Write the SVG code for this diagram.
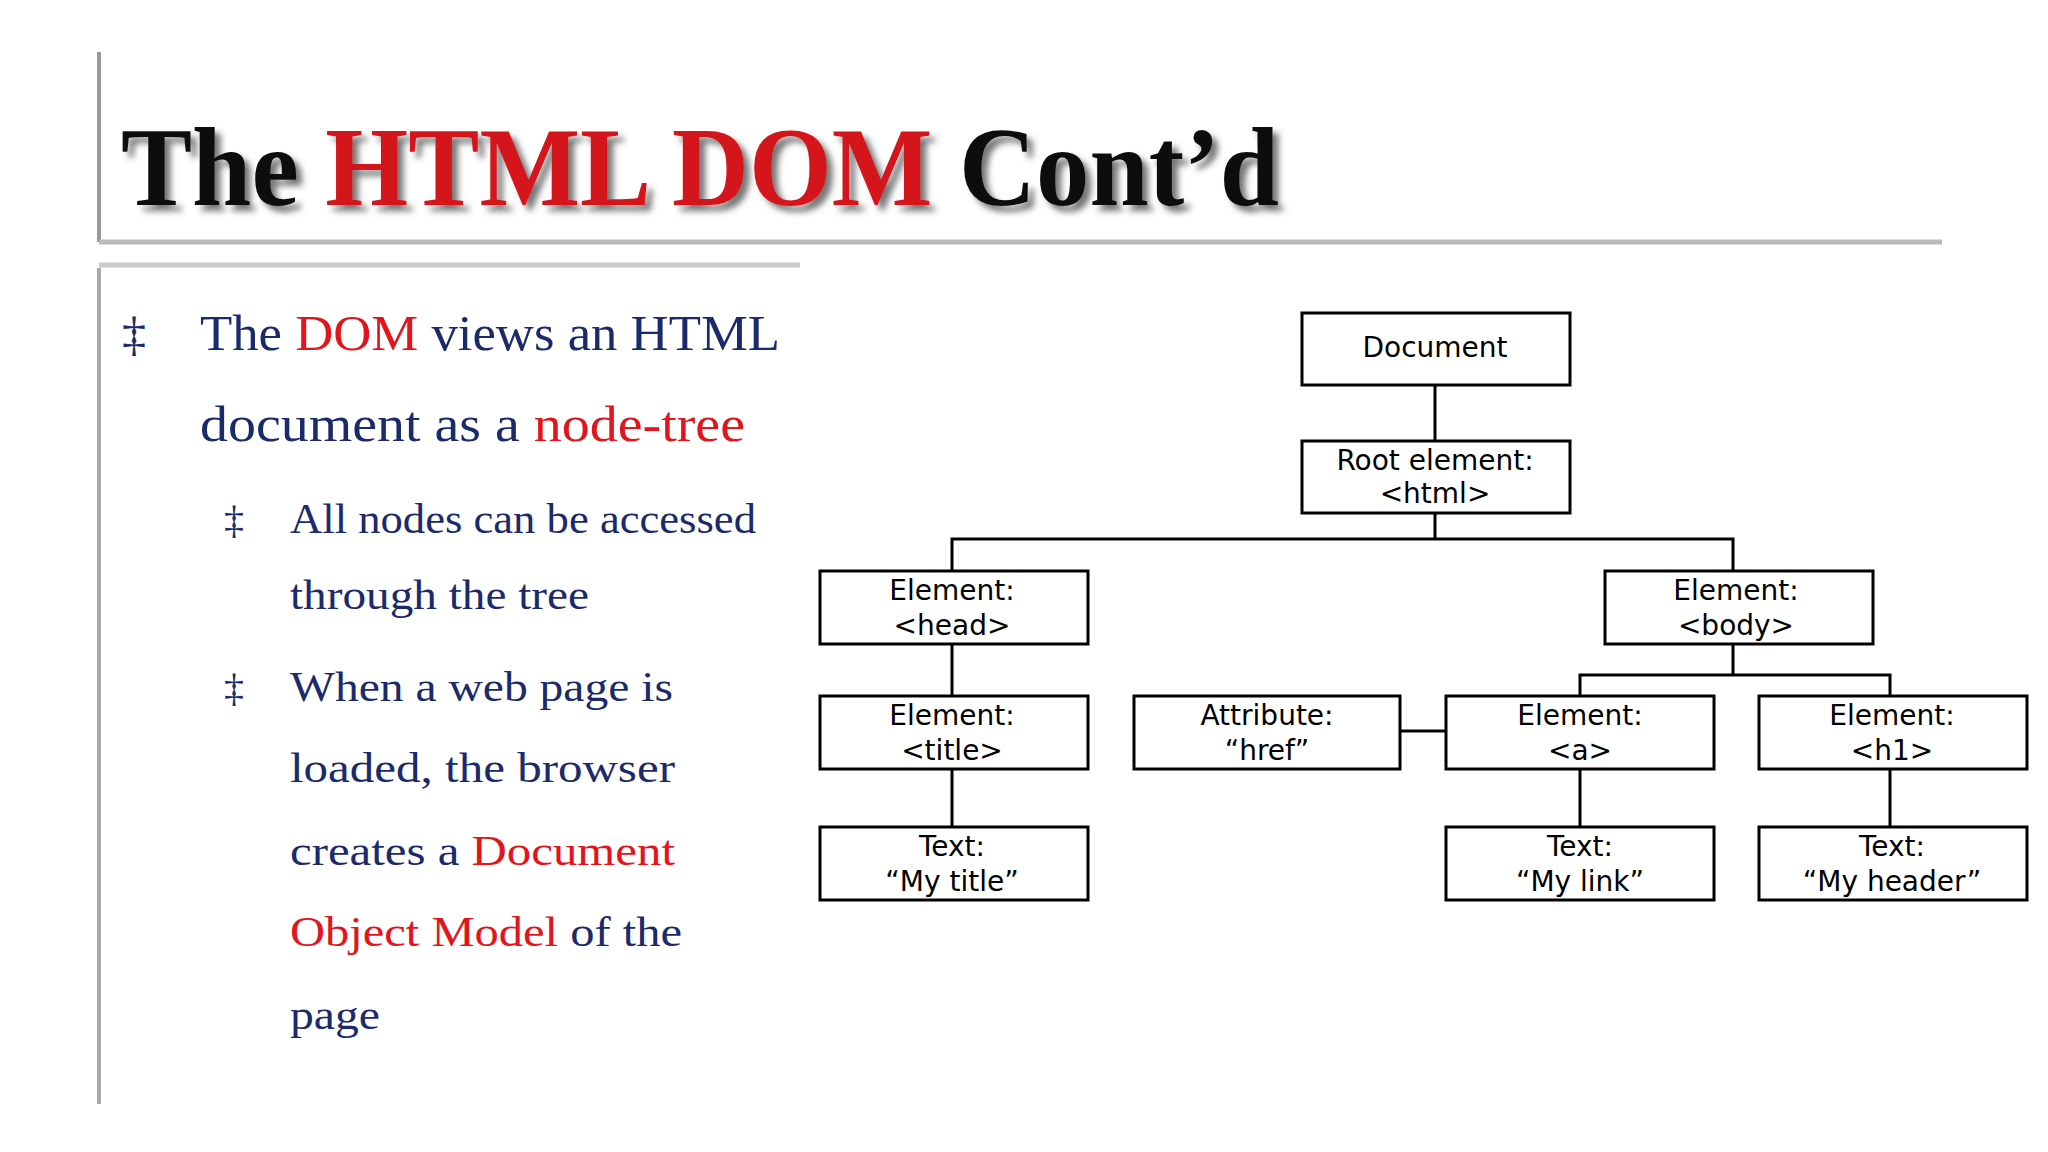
<svg xmlns="http://www.w3.org/2000/svg" width="2048" height="1152" viewBox="0 0 2048 1152">
<defs>
<filter id="sh" x="-5%" y="-20%" width="110%" height="150%"><feDropShadow dx="6" dy="6" stdDeviation="3" flood-color="#555" flood-opacity="0.8"/></filter>
<style>
.box{fill:#fff;stroke:#000;stroke-width:3}
.lbl{font-family:"DejaVu Sans",Verdana,sans-serif;font-size:28px;fill:#000;text-anchor:middle}
.con{stroke:#000;stroke-width:3;fill:none}
.b{font-family:"Liberation Serif",serif;fill:#1B2A6B}
.r{fill:#E3141B}
</style>
</defs>
<rect width="2048" height="1152" fill="#fff"/>
<g id="frame">
<line x1="99" y1="52" x2="99" y2="242" stroke="#999" stroke-width="4"/>
<line x1="99" y1="242" x2="1942" y2="242" stroke="#bbb" stroke-width="5"/>
<line x1="99" y1="265" x2="800" y2="265" stroke="#ccc" stroke-width="5"/>
<line x1="99" y1="268" x2="99" y2="1104" stroke="#aaa" stroke-width="4"/>
</g>
<g id="title" font-family="Liberation Serif,serif" font-weight="bold" font-size="112" filter="url(#sh)">
<text x="121" y="205" textLength="1158" lengthAdjust="spacingAndGlyphs"><tspan fill="#111">The </tspan><tspan fill="#D4141B">HTML DOM</tspan><tspan fill="#111"> Cont’d</tspan></text>
</g>
<g id="bullets">
<text class="b" x="122" y="350" font-size="48">‡</text>
<text class="b" x="200" y="350" font-size="50" textLength="580" lengthAdjust="spacingAndGlyphs">The <tspan class="r">DOM</tspan> views an HTML</text>
<text class="b" x="200" y="441" font-size="50" textLength="545" lengthAdjust="spacingAndGlyphs">document as a <tspan class="r">node-tree</tspan></text>
<text class="b" x="224" y="533" font-size="40">‡</text>
<text class="b" x="290" y="533" font-size="42" textLength="466" lengthAdjust="spacingAndGlyphs">All nodes can be accessed</text>
<text class="b" x="290" y="609" font-size="42" textLength="299" lengthAdjust="spacingAndGlyphs">through the tree</text>
<text class="b" x="224" y="701" font-size="40">‡</text>
<text class="b" x="290" y="701" font-size="42" textLength="383" lengthAdjust="spacingAndGlyphs">When a web page is</text>
<text class="b" x="290" y="782" font-size="42" textLength="385" lengthAdjust="spacingAndGlyphs">loaded, the browser</text>
<text class="b" x="290" y="865" font-size="42" textLength="385" lengthAdjust="spacingAndGlyphs">creates a <tspan class="r">Document</tspan></text>
<text class="b" x="290" y="946" font-size="42" textLength="392" lengthAdjust="spacingAndGlyphs"><tspan class="r">Object Model</tspan> of the</text>
<text class="b" x="290" y="1029" font-size="42" textLength="90" lengthAdjust="spacingAndGlyphs">page</text>
</g>
<g id="connectors">
<line class="con" x1="1435" y1="385" x2="1435" y2="441"/>
<polyline class="con" points="952,571 952,539 1733,539 1733,571"/>
<line class="con" x1="1435" y1="513" x2="1435" y2="539"/>
<line class="con" x1="952" y1="644" x2="952" y2="696"/>
<line class="con" x1="952" y1="769" x2="952" y2="827"/>
<line class="con" x1="1733" y1="644" x2="1733" y2="675"/>
<polyline class="con" points="1580,696 1580,675 1890,675 1890,696"/>
<line class="con" x1="1400" y1="731" x2="1446" y2="731"/>
<line class="con" x1="1580" y1="769" x2="1580" y2="827"/>
<line class="con" x1="1890" y1="769" x2="1890" y2="827"/>
</g>
<g id="document"><rect class="box" x="1302" y="313" width="268" height="72"/><text class="lbl" x="1435" y="357">Document</text></g>
<g id="root"><rect class="box" x="1302" y="441" width="268" height="72"/><text class="lbl" x="1435" y="470">Root element:</text><text class="lbl" x="1435" y="503">&lt;html&gt;</text></g>
<g id="head"><rect class="box" x="820" y="571" width="268" height="73"/><text class="lbl" x="952" y="600">Element:</text><text class="lbl" x="952" y="635">&lt;head&gt;</text></g>
<g id="body"><rect class="box" x="1605" y="571" width="268" height="73"/><text class="lbl" x="1736" y="600">Element:</text><text class="lbl" x="1736" y="635">&lt;body&gt;</text></g>
<g id="title-el"><rect class="box" x="820" y="696" width="268" height="73"/><text class="lbl" x="952" y="725">Element:</text><text class="lbl" x="952" y="760">&lt;title&gt;</text></g>
<g id="attr"><rect class="box" x="1134" y="696" width="266" height="73"/><text class="lbl" x="1267" y="725">Attribute:</text><text class="lbl" x="1267" y="760">“href”</text></g>
<g id="a"><rect class="box" x="1446" y="696" width="268" height="73"/><text class="lbl" x="1580" y="725">Element:</text><text class="lbl" x="1580" y="760">&lt;a&gt;</text></g>
<g id="h1"><rect class="box" x="1759" y="696" width="268" height="73"/><text class="lbl" x="1892" y="725">Element:</text><text class="lbl" x="1892" y="760">&lt;h1&gt;</text></g>
<g id="t-title"><rect class="box" x="820" y="827" width="268" height="73"/><text class="lbl" x="952" y="856">Text:</text><text class="lbl" x="952" y="891">“My title”</text></g>
<g id="t-link"><rect class="box" x="1446" y="827" width="268" height="73"/><text class="lbl" x="1580" y="856">Text:</text><text class="lbl" x="1580" y="891">“My link”</text></g>
<g id="t-header"><rect class="box" x="1759" y="827" width="268" height="73"/><text class="lbl" x="1892" y="856">Text:</text><text class="lbl" x="1892" y="891">“My header”</text></g>
</svg>
